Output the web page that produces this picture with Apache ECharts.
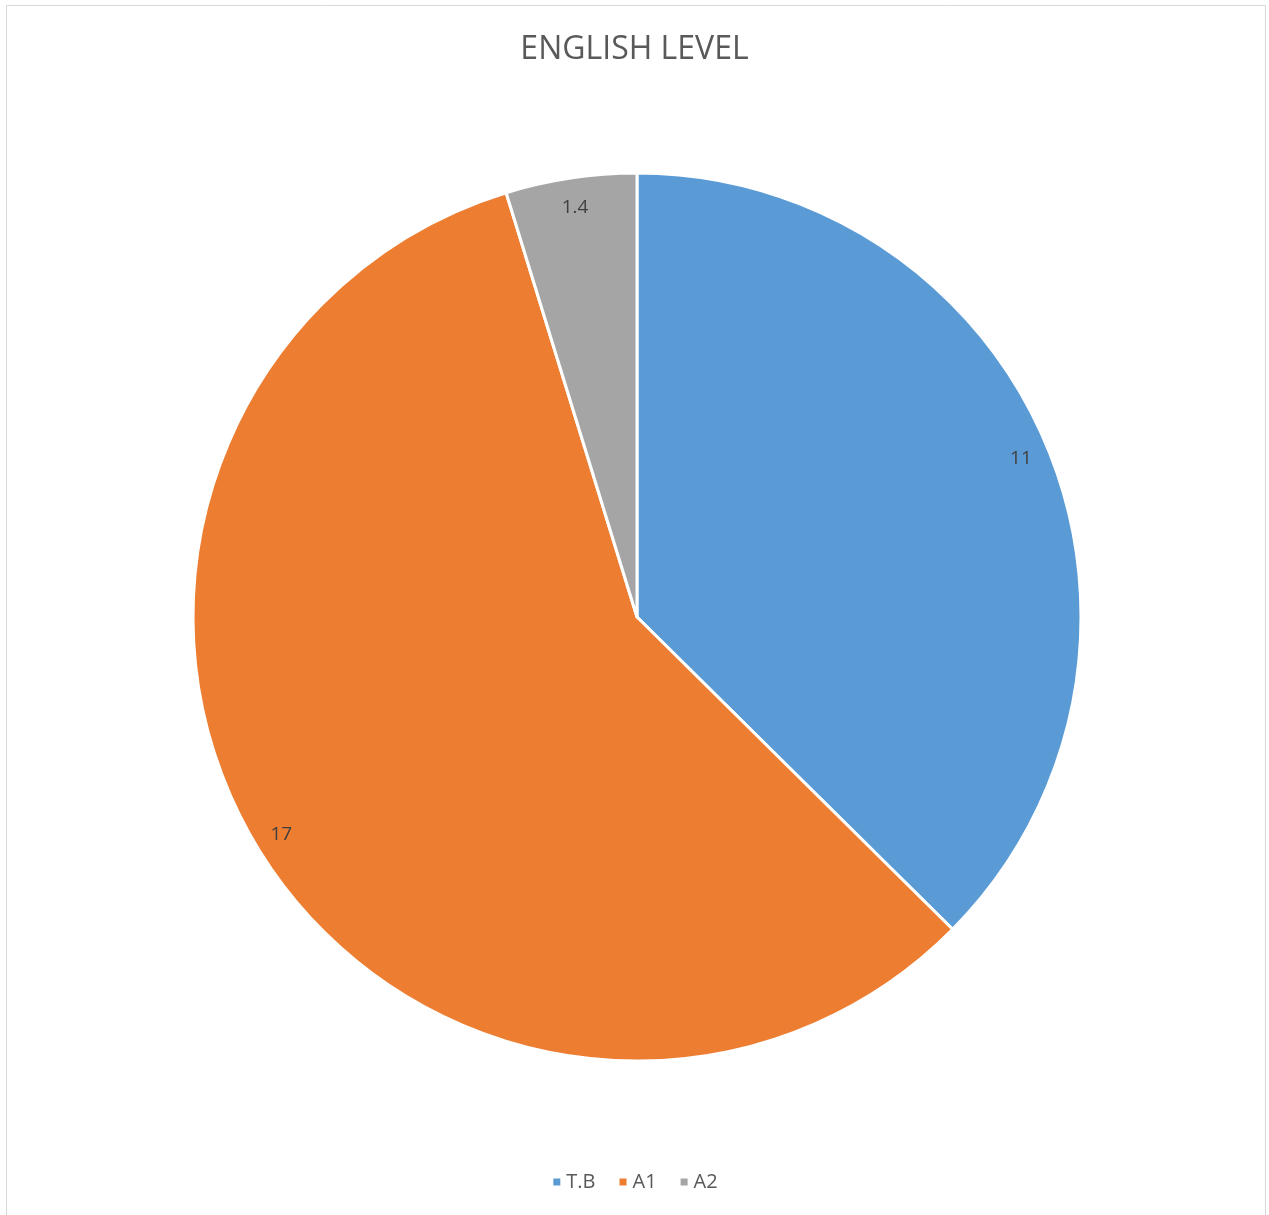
<!DOCTYPE html>
<html>
<head>
<meta charset="utf-8">
<script src="https://cdn.jsdelivr.net/npm/echarts@6/dist/echarts.min.js"></script>
<style>
  html, body { margin: 0; padding: 0; background: #fff; }
  #chart { width: 1269px; height: 1215px; }
</style>
</head>
<body>
<div id="chart"></div>
<script>
var levels = ['T.B', 'A1', 'A2'];
var counts = [11, 17, 1.4];
var colors = ['#5B9BD5', '#ED7D31', '#A5A5A5'];

var pieData = levels.map(function (name, i) {
  return { name: name, value: counts[i], itemStyle: { color: colors[i] } };
});
var labelData = levels.map(function (name, i) {
  return { name: name, value: counts[i] };
});

var myChart = echarts.init(document.getElementById('chart'));
var option = {
  backgroundColor: '#fff',
  animation: false,
  title: {
    text: 'ENGLISH LEVEL',
    left: 'center',
    top: 29,
    textStyle: { fontFamily: 'Open Sans', fontSize: 32, fontWeight: 'normal', color: '#595959' }
  },
  graphic: [{
    type: 'rect',
    shape: { x: 6.5, y: 5.5, width: 1259, height: 1230 },
    style: { fill: 'none', stroke: '#d9d9d9', lineWidth: 1 },
    silent: true
  }],
  legend: {
    data: levels,
    bottom: 18,
    left: 'center',
    icon: 'rect',
    itemWidth: 9,
    itemHeight: 9,
    itemGap: 22,
    textStyle: { fontFamily: 'Open Sans', fontSize: 20, color: '#595959' }
  },
  series: [{
    name: 'level',
    type: 'pie',
    center: [637, 617],
    radius: [0, 444],
    startAngle: 90,
    clockwise: true,
    data: pieData,
    label: { show: false },
    labelLine: { show: false },
    itemStyle: { borderColor: '#fff', borderWidth: 3 },
    emphasis: { disabled: true }
  }, {
    name: 'labels',
    type: 'pie',
    center: [637, 619],
    radius: [386, 440],
    startAngle: 90,
    clockwise: true,
    silent: true,
    data: labelData,
    itemStyle: { color: 'rgba(0,0,0,0)' },
    label: {
      show: true,
      position: 'inside',
      formatter: '{c}',
      fontFamily: 'Open Sans',
      fontSize: 19,
      color: '#404040'
    },
    labelLine: { show: false },
    emphasis: { disabled: true }
  }]
};
myChart.setOption(option);
</script>
</body>
</html>
